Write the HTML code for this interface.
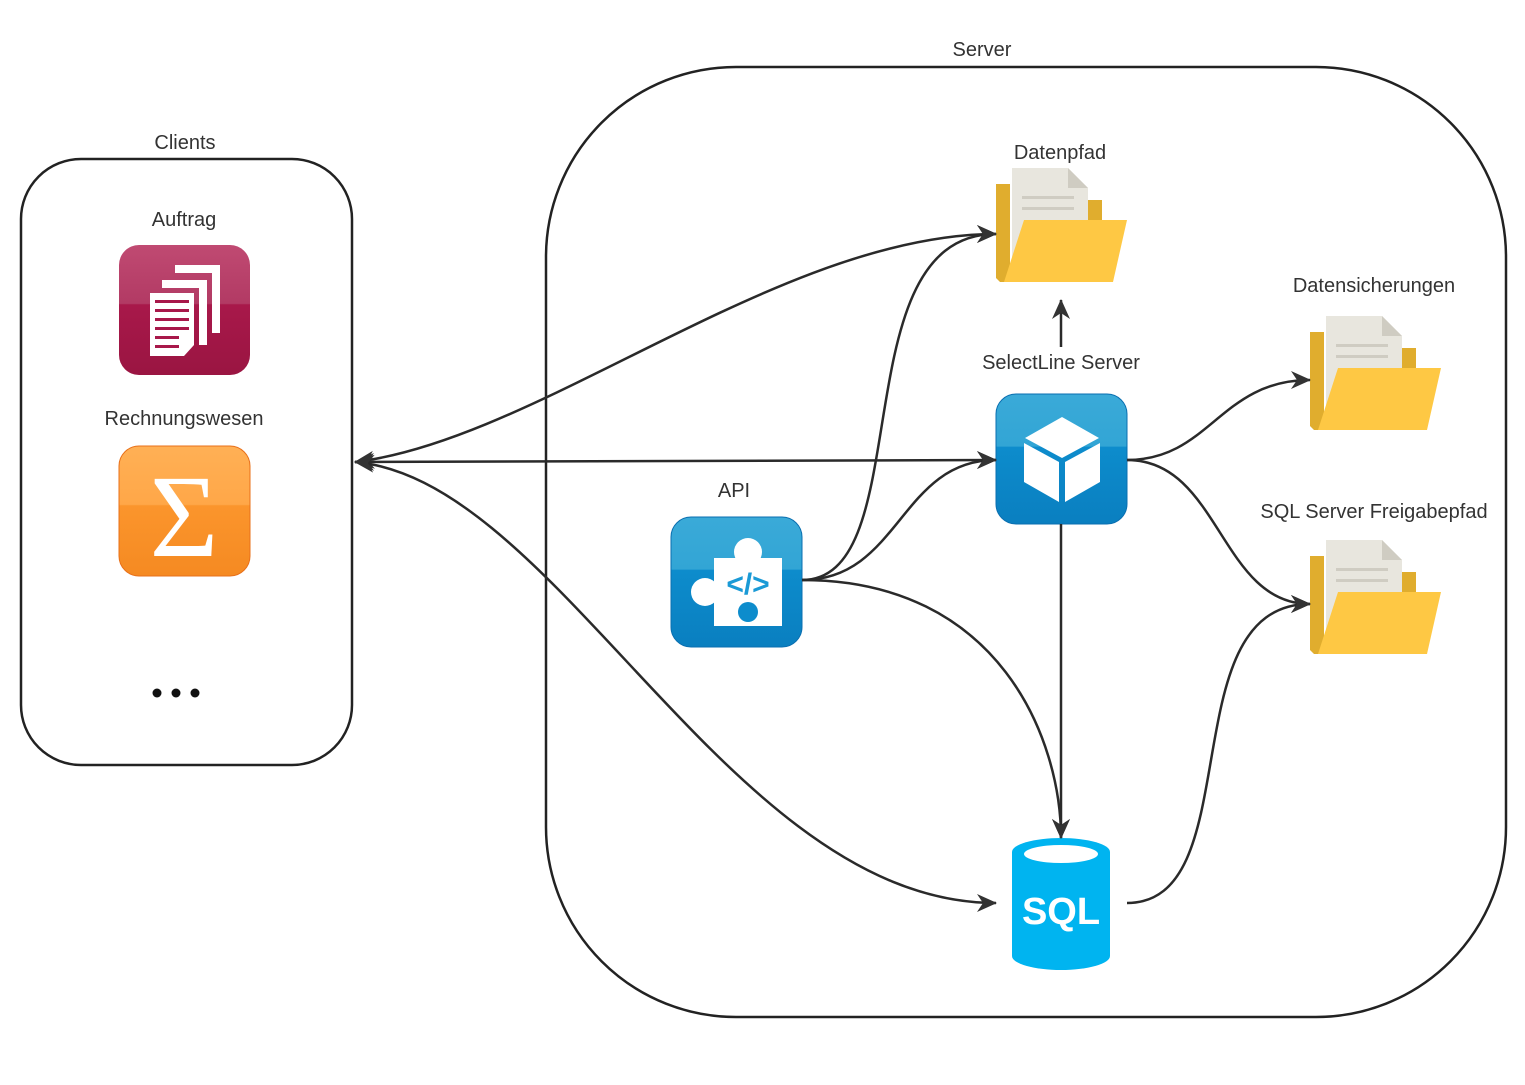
<!DOCTYPE html>
<html><head><meta charset="utf-8"><style>
html,body{margin:0;padding:0;background:#fff;}
svg text{font-family:"Liberation Sans","DejaVu Sans",sans-serif;font-size:20px;fill:#333;}
</style></head><body>
<svg width="1525" height="1080" viewBox="0 0 1525 1080" xmlns="http://www.w3.org/2000/svg">
<defs>
<marker id="a" viewBox="0 0 20 20" refX="19" refY="10" markerWidth="20" markerHeight="20" markerUnits="userSpaceOnUse" orient="auto-start-reverse">
<path d="M0,1 L20,10 L0,19 L6,10 z" fill="#333"/></marker>
<linearGradient id="gR" x1="0" y1="0" x2="0" y2="1"><stop offset="0" stop-color="#c04a72"/><stop offset="0.45" stop-color="#b23a64"/><stop offset="0.46" stop-color="#a8184a"/><stop offset="1" stop-color="#9a1542"/></linearGradient>
<linearGradient id="gO" x1="0" y1="0" x2="0" y2="1"><stop offset="0" stop-color="#ffb055"/><stop offset="0.45" stop-color="#ffa748"/><stop offset="0.46" stop-color="#fb952c"/><stop offset="1" stop-color="#f58a22"/></linearGradient>
<linearGradient id="gB" x1="0" y1="0" x2="0" y2="1"><stop offset="0" stop-color="#3aaad8"/><stop offset="0.4" stop-color="#32a5d5"/><stop offset="0.41" stop-color="#0d8ccc"/><stop offset="1" stop-color="#0a7fc0"/></linearGradient>
<g id="folder">
<path d="M0,16 L14,16 L14,114 L4,114 L0,110 z" fill="#e0ad2e"/>
<path d="M16,0 L72,0 L92,20 L92,100 L16,100 z" fill="#e8e6de"/>
<path d="M72,0 L72,20 L92,20 z" fill="#cfccc2"/>
<rect x="26" y="28" width="52" height="3" fill="#cfccc2"/><rect x="26" y="39" width="52" height="3" fill="#cfccc2"/>
<path d="M92,32 L106,32 L106,52 L92,52 z" fill="#e0ad2e"/>
<path d="M28,52 L131,52 L117,114 L8,114 z" fill="#fec844"/>
</g>
</defs>
<rect x="21" y="159" width="331" height="606" rx="60" fill="none" stroke="#222" stroke-width="2.5"/>
<rect x="546" y="67" width="960" height="950" rx="190" fill="none" stroke="#222" stroke-width="2.5"/>
<text x="185" y="149" text-anchor="middle">Clients</text>
<text x="982" y="56" text-anchor="middle">Server</text>
<text x="184" y="226" text-anchor="middle">Auftrag</text>
<text x="184" y="425" text-anchor="middle">Rechnungswesen</text>
<text x="1060" y="159" text-anchor="middle">Datenpfad</text>
<text x="1061" y="369" text-anchor="middle">SelectLine Server</text>
<text x="734" y="497" text-anchor="middle">API</text>
<text x="1374" y="292" text-anchor="middle">Datensicherungen</text>
<text x="1374" y="518" text-anchor="middle">SQL Server Freigabepfad</text>
<!-- Auftrag -->
<rect x="119" y="245" width="131" height="130" rx="20" fill="url(#gR)"/>
<path d="M175,265 h45 v68 h-8 v-60 h-37 z" fill="#fff"/>
<path d="M162,280 h45 v65 h-8 v-57 h-37 z" fill="#fff"/>
<path d="M150,293 h44 v52 l-10,11 h-34 z" fill="#fff"/>
<g fill="#a8184a"><rect x="155" y="300" width="34" height="3"/><rect x="155" y="309" width="34" height="3"/><rect x="155" y="318" width="34" height="3"/><rect x="155" y="327" width="34" height="3"/><rect x="155" y="336" width="24" height="3"/><rect x="155" y="345" width="24" height="3"/></g>
<!-- Sigma -->
<rect x="119" y="446" width="131" height="130" rx="20" fill="url(#gO)" stroke="#e8701a" stroke-width="1"/>
<text x="184" y="556" text-anchor="middle" style="font-family:'Liberation Serif',serif;font-size:118px;fill:#fff">Σ</text>
<circle cx="157" cy="693" r="4.5" fill="#111"/><circle cx="176" cy="693" r="4.5" fill="#111"/><circle cx="195" cy="693" r="4.5" fill="#111"/>
<!-- folders -->
<use href="#folder" x="996" y="168"/>
<use href="#folder" x="1310" y="316"/>
<use href="#folder" x="1310" y="540"/>
<!-- SelectLine -->
<rect x="996" y="394" width="131" height="130" rx="20" fill="url(#gB)" stroke="#0a6fb0" stroke-width="1"/>
<path d="M1062,417 L1099,438 L1062,458 L1025,438 z" fill="#fff"/>
<path d="M1024,443 L1059,462 L1059,502 L1024,482 z" fill="#fff"/>
<path d="M1065,462 L1100,443 L1100,482 L1065,502 z" fill="#fff"/>
<!-- API -->
<rect x="671" y="517" width="131" height="130" rx="20" fill="url(#gB)" stroke="#0a6fb0" stroke-width="1"/>
<rect x="714" y="558" width="68" height="68" fill="#fff"/>
<circle cx="748" cy="552" r="14" fill="#fff"/>
<circle cx="705" cy="592" r="14" fill="#fff"/>
<circle cx="748" cy="612" r="10" fill="#0d8ccc"/>
<text x="748" y="594" text-anchor="middle" style="font-size:30px;fill:#1a9ad6;font-weight:bold">&lt;/&gt;</text>
<!-- SQL -->
<path d="M1012,852 A49,14 0 0 1 1110,852 L1110,956 A49,14 0 0 1 1012,956 z" fill="#00b4f0"/>
<ellipse cx="1061" cy="854" rx="37" ry="9" fill="#fff"/>
<text x="1061" y="924" text-anchor="middle" style="font-size:38px;font-weight:bold;fill:#fff">SQL</text>
<!-- connectors -->
<g fill="none" stroke="#2a2a2a" stroke-width="2.5">
<path d="M355,462 C540,440 780,234 996,234" marker-start="url(#a)" marker-end="url(#a)"/>
<path d="M355,462 L996,460" marker-start="url(#a)" marker-end="url(#a)"/>
<path d="M355,462 C560,480 730,903 996,903" marker-start="url(#a)" marker-end="url(#a)"/>
<path d="M802,580 C920,580 840,234 996,234" marker-end="url(#a)"/>
<path d="M802,580 C900,580 900,460 996,460" marker-end="url(#a)"/>
<path d="M802,580 C1000,580 1061,740 1061,838" marker-end="url(#a)"/>
<path d="M1061,524 L1061,838" marker-end="url(#a)"/>
<path d="M1061,347 L1061,300" marker-end="url(#a)"/>
<path d="M1127,460 C1210,460 1220,380 1310,380" marker-end="url(#a)"/>
<path d="M1127,460 C1220,460 1220,604 1310,604" marker-end="url(#a)"/>
<path d="M1127,903 C1250,903 1170,604 1310,604" marker-end="url(#a)"/>
</g>
</svg>
</body></html>
